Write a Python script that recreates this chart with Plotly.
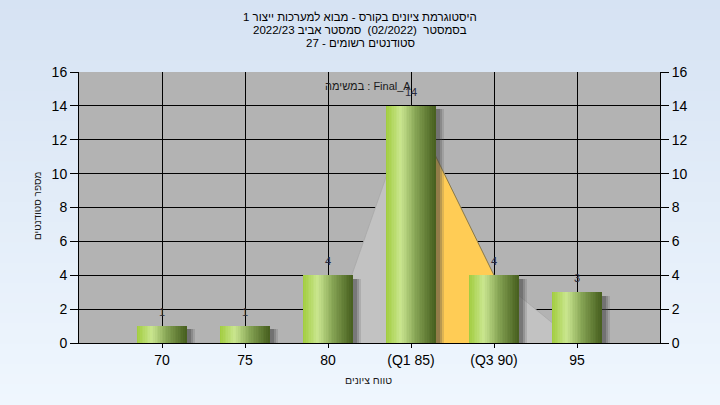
import plotly.graph_objects as go

# ---- data ----
categories = ["70", "75", "80", "(Q1 85)", "(Q3 90)", "95"]
counts = [1, 1, 4, 14, 4, 3]
curve_values = [0, 0, 0, 14, 4, 0]          # distribution outline behind bars
iqr_index = [3, 4]                            # Q1..Q3 highlighted segment
y_ticks = [0, 2, 4, 6, 8, 10, 12, 14, 16]

title_lines = [
    "היסטוגרמת ציונים בקורס - מבוא למערכות ייצור 1",
    "בסמסטר  (02/2022)  סמסטר אביב 2022/23",
    "סטודנטים רשומים - 27",
]
task_label = "במשימה : Final_A"
x_title = "טווח ציונים"
y_title = "מספר סטודנטים"

FONT = "Liberation Sans, Arial, sans-serif"
xpos = list(range(len(categories)))

fig = go.Figure()

# distribution area (light gray) and IQR segment (orange) on the lower subplot
fig.add_trace(go.Scatter(x=xpos, y=curve_values, mode="lines", fill="tozeroy",
                         fillcolor="#c2c2c2", line=dict(color="#a8a8a8", width=0.8),
                         hoverinfo="skip", showlegend=False))
fig.add_trace(go.Scatter(x=[xpos[i] for i in iqr_index], y=[curve_values[i] for i in iqr_index],
                         mode="lines", fill="tozeroy", fillcolor="#ffcc55",
                         line=dict(color="#8a7a4a", width=1), hoverinfo="skip", showlegend=False))

BW = 0.6
# soft shadows (upper subplot, drawn above the area)
for off, col in [(0.095, "rgba(80,80,80,0.18)"), (0.07, "rgba(70,70,70,0.25)"), (0.045, "rgba(60,60,60,0.3)")]:
    fig.add_trace(go.Bar(x=xpos, y=counts, base=-0.2, width=BW, offset=-BW / 2 + off,
                         marker=dict(color=col, line=dict(width=0)), yaxis="y2",
                         hoverinfo="skip", showlegend=False))

# gradient bars built from vertical strips
stops = [(0.0, (160, 204, 60)), (0.3, (202, 230, 144)), (0.6, (135, 165, 85)), (1.0, (70, 94, 30))]


def grad(t):
    for (t0, c0), (t1, c1) in zip(stops[:-1], stops[1:]):
        if t0 <= t <= t1:
            f = (t - t0) / (t1 - t0)
            return "rgb(%d,%d,%d)" % tuple(round(a + (b - a) * f) for a, b in zip(c0, c1))
    return "rgb(%d,%d,%d)" % stops[-1][1]


N = 30
sw = BW / N
for i in range(N):
    fig.add_trace(go.Bar(x=xpos, y=counts, width=sw * 1.15, offset=-BW / 2 + i * sw,
                         marker=dict(color=grad((i + 0.5) / N), line=dict(width=0)), yaxis="y2",
                         hoverinfo="skip", showlegend=False))

# value labels
fig.add_trace(go.Scatter(x=xpos, y=counts, mode="markers+text", text=[str(v) for v in counts],
                         textposition="top center", yaxis="y2",
                         marker=dict(size=10, color="rgba(0,0,0,0)"),
                         textfont=dict(family=FONT, size=11, color="#2a2a3a"),
                         hoverinfo="skip", showlegend=False))

# background gradient (figure) + plot background
shapes = []
NB = 40
y_top, y_bot = 343 / 271, (343 - 405) / 271
c_top, c_bot = (214, 227, 243), (239, 246, 254)
for k in range(NB):
    f = k / (NB - 1)
    col = "rgb(%d,%d,%d)" % tuple(round(a + (b - a) * f) for a, b in zip(c_top, c_bot))
    y0 = y_top + (y_bot - y_top) * k / NB
    y1 = y_top + (y_bot - y_top) * (k + 1) / NB
    shapes.append(dict(type="rect", xref="paper", yref="paper", x0=-0.2, x1=1.2,
                       y0=y0 + 0.002, y1=y1 - 0.002, line=dict(width=0), fillcolor=col, layer="below"))
shapes.append(dict(type="rect", xref="paper", yref="paper", x0=0, x1=1, y0=0, y1=1,
                   line=dict(width=0), fillcolor="#b3b3b3", layer="below"))

annotations = []
for j, (line, py) in enumerate(zip(title_lines, [17, 30, 43])):
    annotations.append(dict(text=line, xref="paper", yref="paper", x=(360 - 79) / 581,
                            y=(343 - py) / 271, xanchor="center", yanchor="middle",
                            showarrow=False, font=dict(family=FONT, size=11.5, color="#000")))
annotations.append(dict(text=task_label, xref="paper", yref="paper", x=(368 - 79) / 581,
                        y=(343 - 86) / 271, xanchor="center", yanchor="middle", showarrow=False,
                        font=dict(family=FONT, size=11, color="#1a1a1a")))
annotations.append(dict(text=x_title, xref="paper", yref="paper", x=(368 - 79) / 581,
                        y=(343 - 380) / 271, xanchor="center", yanchor="middle", showarrow=False,
                        font=dict(family=FONT, size=10.5, color="#1a1a1a")))
annotations.append(dict(text=y_title, xref="paper", yref="paper", x=(37 - 79) / 581,
                        y=(343 - 206) / 271, xanchor="center", yanchor="middle", showarrow=False,
                        textangle=-90, font=dict(family=FONT, size=10, color="#1a1a1a")))

axis_common = dict(range=[0, 16], tickvals=y_ticks, ticks="outside", ticklen=8, tickcolor="#000",
                   showline=True, linecolor="#000", linewidth=1, zeroline=False,
                   tickfont=dict(family=FONT, size=14, color="#000"), fixedrange=True)

fig.update_layout(
    width=720, height=405,
    margin=dict(l=79, r=60, t=72, b=62),
    paper_bgcolor="#e4edf8", plot_bgcolor="rgba(0,0,0,0)",
    barmode="overlay", bargap=0,
    showlegend=False,
    shapes=shapes, annotations=annotations,
    xaxis=dict(range=[-1, 6], tickvals=xpos, ticktext=categories, ticks="outside", ticklen=4,
               tickcolor="#000", showline=True, linecolor="#000", linewidth=1,
               showgrid=True, gridcolor="#000", gridwidth=1, zeroline=False,
               tickfont=dict(family=FONT, size=14, color="#000"), fixedrange=True),
    yaxis=dict(showgrid=True, gridcolor="#000", gridwidth=1, side="left", **axis_common),
    yaxis2=dict(overlaying="y", side="right", showgrid=False, **axis_common),
)

fig.write_html("out.html", config={"displayModeBar": False},
               post_script="document.body.style.margin='0';")
